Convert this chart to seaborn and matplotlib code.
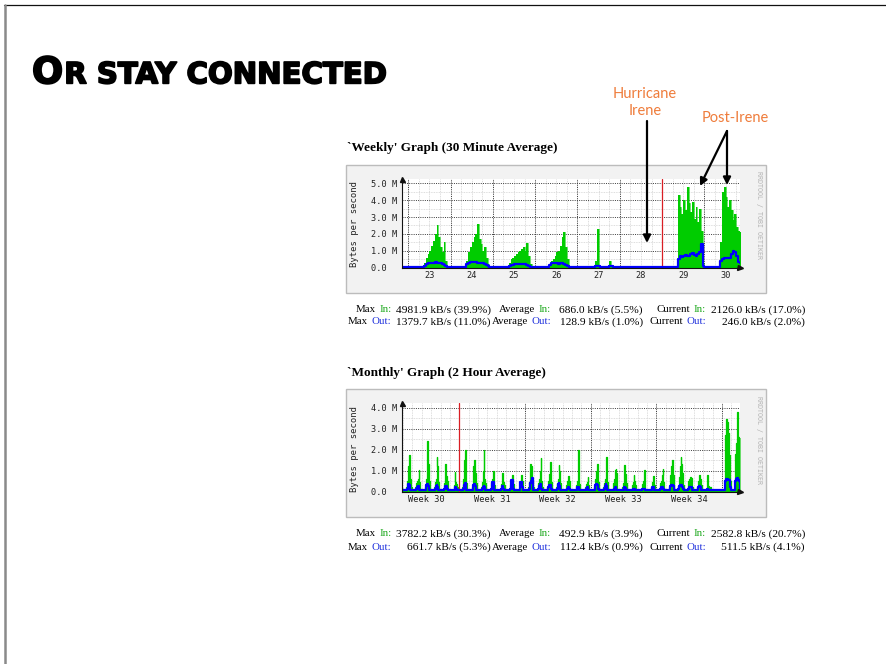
import matplotlib
matplotlib.use("Agg")
import matplotlib.pyplot as plt
import matplotlib.patheffects as pe
from matplotlib.patches import Rectangle
import numpy as np
import seaborn as sns

W, H = 886, 664

# ---- weekly graph: hourly traffic in MB/s, one list per day (Aug 22..30)
wk_in_22 = [0.02] * 24
wk_in_23 = [0.02] * 9 + [0.3, 0.6, 0.8, 1.0, 1.3, 1.6, 2.0, 2.5, 1.8, 1.2, 0.9, 1.5, 0.4, 0.05, 0.02]
wk_in_24 = [0.02] * 9 + [0.4, 0.9, 1.2, 1.5, 1.8, 2.0, 2.6, 1.7, 1.4, 1.0, 1.2, 0.6, 0.2, 0.03, 0.02]
wk_in_25 = [0.02] * 9 + [0.3, 0.5, 0.6, 0.7, 0.8, 0.9, 1.0, 1.1, 1.2, 1.0, 1.45, 0.7, 0.2, 0.05, 0.02]
wk_in_26 = [0.02] * 8 + [0.2, 0.4, 0.5, 0.7, 0.9, 1.0, 1.3, 1.8, 2.1, 1.2, 0.5, 0.1, 0.03, 0.02, 0.02, 0.02]
wk_in_27 = [0.02] * 10 + [0.4, 2.3, 0.1, 0.02, 0.02, 0.02, 0.02, 0.02, 0.4, 0.05, 0.02, 0.02, 0.02, 0.02]
wk_in_28 = [0.02] * 24
wk_in_29 = [0.02] * 9 + [4.3, 3.6, 3.2, 4.0, 3.4, 4.8, 3.8, 3.3, 3.9, 2.9, 3.6, 2.7, 3.5, 2.2, 0.3]
wk_in_30 = [0.02] * 9 + [1.5, 4.5, 4.8, 4.2, 3.6, 4.0, 3.4, 2.8, 3.2, 2.4, 2.2, 2.1, 2.1, 2.1, 2.1]

wk_out_22 = [0.06] * 24
wk_out_23 = [0.06] * 9 + [0.12, 0.2, 0.25, 0.3, 0.3, 0.3, 0.35, 0.3, 0.3, 0.25, 0.2, 0.15, 0.08, 0.06, 0.06]
wk_out_24 = [0.06] * 9 + [0.2, 0.3, 0.35, 0.35, 0.35, 0.35, 0.3, 0.3, 0.3, 0.25, 0.2, 0.15, 0.08, 0.06, 0.06]
wk_out_25 = [0.06] * 9 + [0.1, 0.15, 0.15, 0.2, 0.2, 0.2, 0.2, 0.2, 0.2, 0.2, 0.15, 0.1, 0.06, 0.06, 0.06]
wk_out_26 = [0.06] * 8 + [0.15, 0.25, 0.3, 0.3, 0.25, 0.2, 0.25, 0.25, 0.2, 0.15, 0.1, 0.06, 0.06, 0.06, 0.06, 0.06]
wk_out_27 = [0.06] * 10 + [0.1, 0.12, 0.1, 0.06, 0.06, 0.06, 0.06, 0.06, 0.1, 0.08, 0.06, 0.06, 0.06, 0.06]
wk_out_28 = [0.06] * 24
wk_out_29 = [0.06] * 9 + [0.5, 0.7, 0.65, 0.7, 0.75, 0.7, 0.7, 0.8, 0.85, 0.75, 0.7, 0.8, 0.9, 1.4, 0.1]
wk_out_30 = [0.06] * 9 + [0.4, 0.5, 0.55, 0.55, 0.55, 0.6, 0.8, 1.0, 0.9, 0.7, 0.35, 0.3, 0.25, 0.25, 0.25]

wk_labels = ["23", "24", "25", "26", "27", "28", "29", "30"]
wk_ylabels = ["0.0  ", "1.0 M", "2.0 M", "3.0 M", "4.0 M", "5.0 M"]

# ---- monthly graph: 2-hour averages 08:00-22:00 per day, MB/s (weeks 30..35)
mo_in_w30 = [
    [0.2, 0.5, 0.8, 1.2, 0.9, 0.5, 0.2],
    [0.2, 0.5, 0.6, 1.2, 1.75, 0.6, 0.2],
    [0.2, 0.4, 0.5, 0.6, 1.05, 0.45, 0.15],
    [0.2, 0.5, 0.6, 2.4, 1.3, 0.5, 0.2],
    [0.2, 0.45, 0.6, 1.65, 1.2, 0.45, 0.15],
    [0.15, 0.4, 1.3, 0.75, 0.5, 0.3, 0.1],
    [0.1, 0.3, 0.95, 0.45, 0.35, 0.2, 0.1],
]
mo_in_w31 = [
    [0.2, 0.6, 1.5, 2.0, 0.6, 0.4, 0.15],
    [0.2, 0.5, 1.2, 1.5, 0.9, 0.4, 0.15],
    [0.2, 0.45, 1.0, 2.0, 0.6, 0.4, 0.15],
    [0.15, 0.4, 0.6, 1.0, 0.45, 0.3, 0.1],
    [0.1, 0.35, 0.5, 0.9, 0.45, 0.3, 0.1],
    [0.1, 0.3, 0.45, 0.6, 0.8, 0.35, 0.1],
    [0.1, 0.3, 0.45, 0.8, 0.5, 0.3, 0.1],
]
mo_in_w32 = [
    [0.2, 0.45, 0.6, 1.3, 1.2, 0.5, 0.2],
    [0.2, 0.4, 0.6, 1.0, 1.6, 0.5, 0.2],
    [0.2, 0.4, 0.5, 0.85, 1.4, 0.45, 0.15],
    [0.2, 0.4, 0.6, 1.25, 1.0, 0.4, 0.15],
    [0.1, 0.3, 0.5, 0.75, 0.5, 0.3, 0.1],
    [0.1, 0.3, 0.4, 0.5, 2.0, 0.35, 0.1],
    [0.1, 0.2, 0.35, 0.45, 0.7, 0.3, 0.1],
]
mo_in_w33 = [
    [0.2, 0.4, 0.6, 1.0, 1.3, 0.45, 0.15],
    [0.2, 0.4, 0.6, 1.0, 1.67, 0.45, 0.15],
    [0.2, 0.4, 0.6, 1.03, 1.08, 0.9, 0.15],
    [0.2, 0.4, 0.5, 1.25, 0.85, 0.4, 0.15],
    [0.1, 0.3, 0.45, 0.8, 0.5, 0.3, 0.1],
    [0.1, 0.3, 0.35, 0.5, 1.03, 0.3, 0.1],
    [0.1, 0.2, 0.3, 0.45, 0.75, 0.3, 0.1],
]
mo_in_w34 = [
    [0.2, 0.4, 0.5, 0.8, 1.08, 0.45, 0.15],
    [0.2, 0.45, 0.8, 1.2, 1.5, 0.8, 0.3],
    [0.25, 0.7, 1.2, 1.67, 1.3, 0.9, 0.3],
    [0.2, 0.5, 0.6, 0.7, 0.65, 0.6, 0.2],
    [0.2, 0.5, 0.7, 0.8, 0.6, 0.3, 0.1],
    [0.1, 0.8, 0.25, 0.05, 0.05, 0.2, 0.05],
    [0.02, 0.02, 0.02, 0.02, 0.02, 0.02, 0.02],
]
mo_in_w35 = [
    [2.7, 3.46, 3.3, 3.25, 2.8, 1.75, 0.5],
    [0.8, 1.8, 2.3, 3.78, 2.6, 2.58, 2.58],
]

mo_out_w30 = [
    [0.08, 0.15, 0.3, 0.3, 0.25, 0.1, 0.08],
    [0.08, 0.15, 0.3, 0.35, 0.3, 0.1, 0.08],
    [0.08, 0.12, 0.2, 0.25, 0.2, 0.1, 0.08],
    [0.08, 0.15, 0.3, 0.35, 0.25, 0.1, 0.08],
    [0.08, 0.15, 0.25, 0.3, 0.2, 0.1, 0.08],
    [0.08, 0.12, 0.25, 0.25, 0.15, 0.1, 0.08],
    [0.08, 0.1, 0.2, 0.2, 0.12, 0.08, 0.08],
]
mo_out_w31 = [
    [0.08, 0.15, 0.3, 0.4, 0.25, 0.1, 0.08],
    [0.08, 0.15, 0.3, 0.35, 0.25, 0.1, 0.08],
    [0.08, 0.12, 0.2, 0.25, 0.2, 0.1, 0.08],
    [0.08, 0.15, 0.45, 0.45, 0.25, 0.1, 0.08],
    [0.08, 0.12, 0.2, 0.25, 0.15, 0.1, 0.08],
    [0.08, 0.15, 0.55, 0.55, 0.55, 0.12, 0.08],
    [0.08, 0.15, 0.45, 0.45, 0.2, 0.1, 0.08],
]
mo_out_w32 = [
    [0.08, 0.15, 0.25, 0.4, 0.5, 0.66, 0.1],
    [0.08, 0.12, 0.25, 0.35, 0.3, 0.12, 0.08],
    [0.08, 0.12, 0.2, 0.3, 0.3, 0.12, 0.08],
    [0.08, 0.15, 0.35, 0.4, 0.25, 0.1, 0.08],
    [0.08, 0.1, 0.15, 0.2, 0.15, 0.1, 0.08],
    [0.08, 0.1, 0.15, 0.2, 0.2, 0.1, 0.08],
    [0.08, 0.1, 0.15, 0.2, 0.2, 0.1, 0.08],
]
mo_out_w33 = [
    [0.08, 0.15, 0.3, 0.35, 0.3, 0.12, 0.08],
    [0.08, 0.12, 0.25, 0.37, 0.25, 0.1, 0.08],
    [0.08, 0.1, 0.15, 0.2, 0.2, 0.1, 0.08],
    [0.08, 0.1, 0.15, 0.2, 0.18, 0.1, 0.08],
    [0.08, 0.1, 0.12, 0.15, 0.12, 0.08, 0.08],
    [0.08, 0.1, 0.12, 0.15, 0.15, 0.08, 0.08],
    [0.08, 0.1, 0.15, 0.2, 0.2, 0.1, 0.08],
]
mo_out_w34 = [
    [0.08, 0.12, 0.2, 0.2, 0.2, 0.12, 0.08],
    [0.1, 0.2, 0.25, 0.3, 0.3, 0.25, 0.12],
    [0.12, 0.25, 0.3, 0.3, 0.3, 0.2, 0.12],
    [0.1, 0.15, 0.2, 0.2, 0.2, 0.15, 0.1],
    [0.1, 0.2, 0.25, 0.25, 0.2, 0.1, 0.08],
    [0.08, 0.12, 0.1, 0.08, 0.08, 0.1, 0.08],
    [0.08, 0.08, 0.08, 0.08, 0.08, 0.08, 0.08],
]
mo_out_w35 = [
    [0.5, 0.6, 0.6, 0.6, 0.55, 0.55, 0.2],
    [0.3, 0.5, 0.6, 0.66, 0.6, 0.55, 0.51],
]

mo_labels = ["Week 30", "Week 31", "Week 32", "Week 33", "Week 34"]
mo_ylabels = ["0.0  ", "1.0 M", "2.0 M", "3.0 M", "4.0 M"]

# ---- summary lines under each graph
wk_stats = [["4981.9 kB/s (39.9%)", "686.0 kB/s (5.5%)", "2126.0 kB/s (17.0%)"],
            ["1379.7 kB/s (11.0%)", "128.9 kB/s (1.0%)", "246.0 kB/s (2.0%)"]]
mo_stats = [["3782.2 kB/s (30.3%)", "492.9 kB/s (3.9%)", "2582.8 kB/s (20.7%)"],
            ["661.7 kB/s (5.3%)", "112.4 kB/s (0.9%)", "511.5 kB/s (4.1%)"]]

GREEN = "#00cc00"
BLUE = "#0000ff"
TXT_GREEN = "#22aa22"
TXT_BLUE = "#2233dd"
ORANGE = "#ef7c3b"
MONO = "DejaVu Sans Mono"
SERIF = "Liberation Serif"


def px_rect(left, top, right, bottom):
    return [left / W, 1 - bottom / H, (right - left) / W, (bottom - top) / H]


def hourly_steps(days, first_day):
    vals = [v for d in days for v in d]
    x = first_day + np.arange(len(vals) + 1) / 24
    return x, np.array(vals + [vals[-1]])


def two_hour_steps(profiles, base, first_day):
    vals = []
    for p in profiles:
        vals += [base] * 4 + list(p) + [base]
    x = first_day + np.arange(len(vals) + 1) / 12
    return x, np.array(vals + [vals[-1]])


def draw_graph(ax, x_in, y_in, x_out, y_out, xlim, ytop, major_x, minor_x,
               red_x, label_x, labels, ylabels, edge_lw):
    ax.set_facecolor("white")
    yt = np.arange(len(ylabels))
    for v in minor_x:
        ax.axvline(v, color="#d2d2d2", lw=0.6, ls=(0, (1, 1)), zorder=1)
    for v in np.arange(0.5, ytop, 1.0):
        ax.axhline(v, color="#d2d2d2", lw=0.6, ls=(0, (1, 1)), zorder=1)
    for v in major_x:
        ax.axvline(v, color="#3a3a3a", lw=0.7, ls=(0, (1, 1.3)), zorder=1.2)
    for v in yt[1:]:
        ax.axhline(v, color="#3a3a3a", lw=0.7, ls=(0, (1, 1.3)), zorder=1.2)

    ax.fill_between(x_in, y_in, step="post", color=GREEN, lw=0, zorder=2)
    sns.lineplot(x=x_in, y=y_in, drawstyle="steps-post", color=GREEN, lw=edge_lw,
                 estimator=None, sort=False, ax=ax, zorder=2.1)
    sns.lineplot(x=x_out, y=y_out, drawstyle="steps-post", color=BLUE, lw=1.6,
                 estimator=None, sort=False, ax=ax, zorder=3)
    ax.axvline(red_x, color="#d91e24", lw=0.9, zorder=2.5)

    for s in ("top", "right"):
        ax.spines[s].set_visible(False)
    for s in ("left", "bottom"):
        ax.spines[s].set_color("#111111")
        ax.spines[s].set_linewidth(0.8)
        ax.spines[s].set_zorder(4)

    ax.set_yticks(yt, ylabels, family=MONO, fontsize=6.2, color="#222222")
    ax.set_xticks(major_x, [""] * len(major_x))
    ax.set_xticks(label_x, labels, minor=True, family=MONO, fontsize=6.2, color="#222222")
    ax.tick_params(axis="both", which="major", length=2.2, width=0.7, color="#111111", pad=1.4)
    ax.tick_params(axis="x", which="minor", length=0, pad=2.6)
    ax.set_xlabel("")
    ax.set_ylabel("")

    # axis arrows; limits set last since set_xticks can widen the view
    ax.plot([xlim[0]], [ytop], marker="^", ms=3.6, color="#111111", clip_on=False, zorder=5)
    ax.plot([xlim[1]], [0], marker=">", ms=3.6, color="#111111", clip_on=False, zorder=5)
    ax.set_xlim(*xlim)
    ax.set_ylim(0, ytop)


sns.set_style("white")
plt.rcParams["font.family"] = ["DejaVu Sans"]
plt.rcParams["text.color"] = "black"

fig = plt.figure(figsize=(W / 100, H / 100), dpi=100)
fig.patch.set_facecolor("white")

bg = fig.add_axes([0, 0, 1, 1])
bg.set_xlim(0, W)
bg.set_ylim(H, 0)
bg.axis("off")
bg.set_zorder(0)

for top, bottom in ((165, 293), (389, 517)):
    bg.add_patch(Rectangle((346, top), 420, bottom - top, facecolor="#f2f2f2",
                           edgecolor="#bcbcbc", lw=1.0))

# weekly chart
ax_w = fig.add_axes(px_rect(402, 179, 740, 267.7))
ax_w.set_zorder(1)
wx_in, wy_in = hourly_steps([wk_in_22, wk_in_23, wk_in_24, wk_in_25, wk_in_26,
                             wk_in_27, wk_in_28, wk_in_29, wk_in_30], -1)
wx_out, wy_out = hourly_steps([wk_out_22, wk_out_23, wk_out_24, wk_out_25, wk_out_26,
                               wk_out_27, wk_out_28, wk_out_29, wk_out_30], -1)
draw_graph(ax_w, wx_in, wy_in, wx_out, wy_out,
           xlim=(-0.149, 7.842), ytop=5.25,
           major_x=np.arange(0, 8), minor_x=np.arange(-0.25, 8, 0.25),
           red_x=6, label_x=np.arange(len(wk_labels)) + 0.5, labels=wk_labels,
           ylabels=wk_ylabels, edge_lw=0.4)

# monthly chart
ax_m = fig.add_axes(px_rect(402, 403, 740, 491.7))
ax_m.set_zorder(1)
mx_in, my_in = two_hour_steps(mo_in_w30 + mo_in_w31 + mo_in_w32 + mo_in_w33
                              + mo_in_w34 + mo_in_w35, 0.02, -7)
mx_out, my_out = two_hour_steps(mo_out_w30 + mo_out_w31 + mo_out_w32 + mo_out_w33
                                + mo_out_w34 + mo_out_w35, 0.08, -7)
draw_graph(ax_m, mx_in, my_in, mx_out, my_out,
           xlim=(-6.105, 29.91), ytop=4.22,
           major_x=np.arange(0, 29, 7), minor_x=np.arange(-6, 30, 1),
           red_x=0, label_x=np.arange(len(mo_labels)) * 7 - 3.5, labels=mo_labels,
           ylabels=mo_ylabels, edge_lw=0.9)

# foreground: text, arrows, slide frame
fg = fig.add_axes([0, 0, 1, 1])
fg.set_xlim(0, W)
fg.set_ylim(H, 0)
fg.axis("off")
fg.set_zorder(5)
fg.patch.set_visible(False)

fg.plot([4, W], [5, 5], color="#111111", lw=0.9)
fg.plot([5, 5], [5, H], color="#8a8a8a", lw=1.8)

heavy = [pe.withStroke(linewidth=1.3, foreground="black")]
t_o = fg.text(32, 83.3, "O", fontsize=26.4, fontweight="bold", va="baseline",
              ha="left", family="DejaVu Sans", color="black", path_effects=heavy)
fig.canvas.draw()
bb = t_o.get_window_extent()
fg.text(bb.x1 + 1, 83.3, "R STAY CONNECTED", fontsize=21.0, fontweight="bold",
        va="baseline", ha="left", family="DejaVu Sans", color="black",
        path_effects=heavy)

fg.text(347, 148, "`Weekly' Graph (30 Minute Average)", family=SERIF,
        fontweight="bold", fontsize=9.5, va="center", ha="left")
fg.text(347, 373, "`Monthly' Graph (2 Hour Average)", family=SERIF,
        fontweight="bold", fontsize=9.5, va="center", ha="left")

for yc in (224, 449):
    fg.text(355, yc, "Bytes per second", family=MONO, fontsize=6.4, rotation=90,
            va="center", ha="center", color="#222222")
for yc in (215, 440):
    fg.text(759, yc, "RRDTOOL / TOBI OETIKER", family=MONO, fontsize=4.8,
            rotation=-90, va="center", ha="center", color="#b4b4b4")


def stats_block(y1, y2, stats):
    rows = [
        (y1, ["Max", "Average", "Current"], "In:", [380, 539, 694], TXT_GREEN),
        (y2, ["Max", "Average", "Current"], "Out:", [372, 532, 687], TXT_BLUE),
    ]
    right = [491, 643, 805]
    for (y, heads, tag, tag_x, col), vals in zip(rows, stats):
        for word, tx, rx, v in zip(heads, tag_x, right, vals):
            fg.text(tx - 4, y, word, family=SERIF, fontsize=7.8, va="center", ha="right")
            fg.text(tx, y, tag, family=SERIF, fontsize=7.9, va="center", ha="left", color=col)
            fg.text(rx, y, v, family=SERIF, fontsize=8.2, va="center", ha="right")


stats_block(310, 322, wk_stats)
stats_block(534, 547, mo_stats)

# annotations
fg.text(645, 94, "Hurricane", family="Lato", fontsize=10.5, color=ORANGE,
        ha="center", va="center")
fg.text(645, 111, "Irene", family="Lato", fontsize=10.5, color=ORANGE,
        ha="center", va="center")
fg.text(735, 118, "Post-Irene", family="Lato", fontsize=10.5, color=ORANGE,
        ha="center", va="center")

arrow = dict(arrowstyle="-|>", lw=1.6, color="black", mutation_scale=11,
             shrinkA=0, shrinkB=0)
fg.annotate("", xy=(647, 243), xytext=(647, 121), arrowprops=arrow)
fg.annotate("", xy=(700, 186), xytext=(727, 131), arrowprops=arrow)
fg.annotate("", xy=(727, 185), xytext=(727, 131), arrowprops=arrow)

fig.savefig("out.png", dpi=100)
